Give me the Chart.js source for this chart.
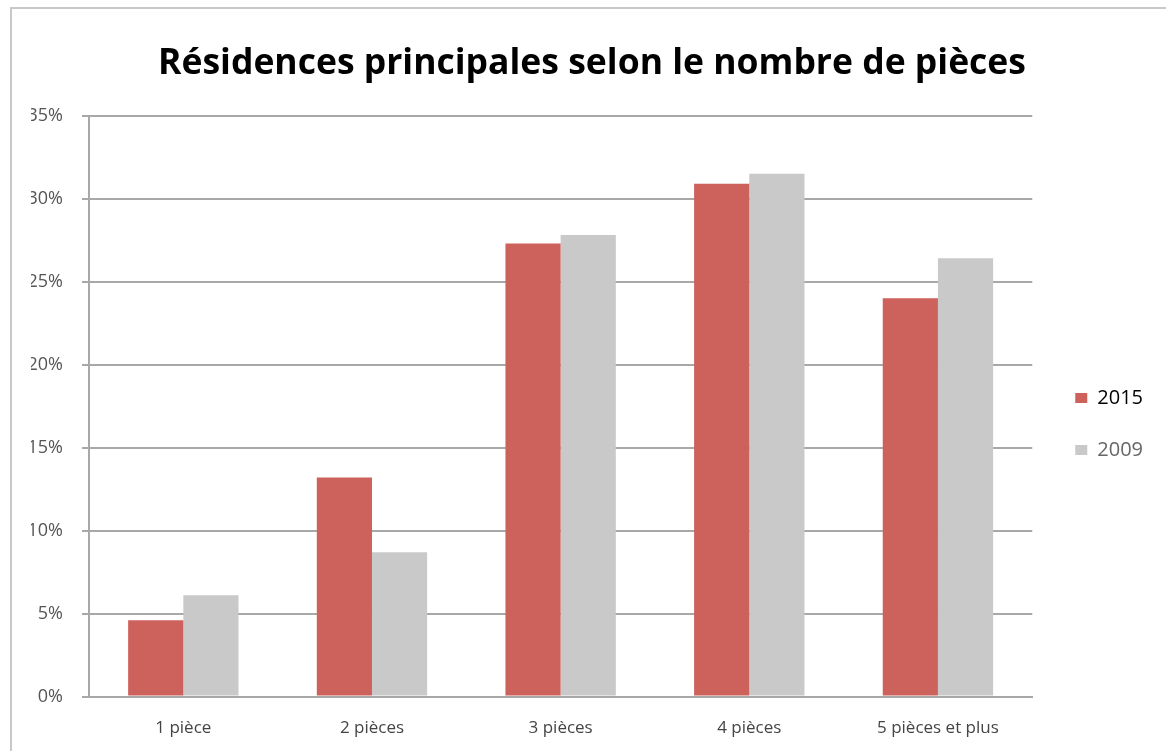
<!DOCTYPE html>
<html>
<head>
<meta charset="utf-8">
<script src="https://cdn.jsdelivr.net/npm/chart.js@4"></script>
<style>
  html, body { margin: 0; padding: 0; background: #fff; }
  #wrap { position: relative; width: 1166px; height: 751px; }
</style>
</head>
<body>
<div id="wrap"><canvas id="myChart" width="1166" height="751"></canvas></div>
<script>
var categories = ['1 pièce', '2 pièces', '3 pièces', '4 pièces', '5 pièces et plus'];
var values2015 = [4.6, 13.2, 27.3, 30.9, 24.0];
var values2009 = [6.1, 8.7, 27.8, 31.5, 26.4];
var seriesLabels = ['2015', '2009'];

// light grey frame around the chart, as in the original screenshot
var framePlugin = {
  id: 'frame',
  beforeDraw: function(chart) {
    var ctx = chart.ctx;
    ctx.save();
    ctx.strokeStyle = '#c8c8c8';
    ctx.lineWidth = 2;
    ctx.beginPath();
    ctx.moveTo(11, 760);
    ctx.lineTo(11, 8);
    ctx.lineTo(1180, 8);
    ctx.stroke();
    ctx.restore();
  }
};

var ctx = document.getElementById('myChart').getContext('2d');
var myChart = new Chart(ctx, {
  type: 'bar',
  data: {
    labels: categories,
    datasets: [{
      label: seriesLabels[0],
      data: values2015,
      backgroundColor: '#cd615b',
      borderWidth: 0
    }, {
      label: seriesLabels[1],
      data: values2009,
      backgroundColor: '#c9c9c9',
      borderWidth: 0
    }]
  },
  options: {
    responsive: false,
    animation: false,
    layout: {
      padding: { left: 31, right: 13, top: 43, bottom: 0 }
    },
    datasets: {
      bar: { categoryPercentage: 0.585, barPercentage: 1.0 }
    },
    plugins: {
      title: {
        display: true,
        text: 'Résidences principales selon le nombre de pièces',
        color: '#000',
        font: { family: 'Open Sans', size: 35.5, weight: 'bold' },
        padding: { top: 0, bottom: 30 }
      },
      legend: {
        position: 'right',
        align: 'center',
        title: {
          display: true,
          text: ' ',
          padding: { top: 30, bottom: 0 },
          font: { size: 20 }
        },
        labels: {
          boxWidth: 12,
          boxHeight: 10,
          padding: 32,
          font: { family: 'Open Sans', size: 20 },
          generateLabels: function(chart) {
            var items = Chart.defaults.plugins.legend.labels.generateLabels(chart);
            items[0].fontColor = '#000';
            items[1].fontColor = '#666';
            return items;
          }
        }
      },
      tooltip: { enabled: false }
    },
    scales: {
      x: {
        grid: { display: false },
        border: { display: true, color: '#a8a8a8', width: 2 },
        ticks: {
          color: '#444',
          font: { family: 'Open Sans', size: 17 },
          padding: 13
        }
      },
      y: {
        min: 0,
        max: 35,
        afterFit: function(scale) { scale.width = 58; },
        ticks: {
          stepSize: 5,
          color: '#555',
          font: { family: 'Open Sans', size: 18 },
          padding: 19,
          callback: function(v) { return v + '%'; }
        },
        grid: { color: '#a8a8a8', lineWidth: 2, tickLength: 7 },
        border: { display: true, color: '#a8a8a8', width: 2 }
      },
      // empty spacer between the plot and the legend
      yRight: {
        position: 'right',
        afterFit: function(scale) { scale.width = 11; },
        grid: { display: false },
        border: { display: false },
        ticks: { display: false }
      }
    }
  },
  plugins: [framePlugin]
});
</script>
</body>
</html>
